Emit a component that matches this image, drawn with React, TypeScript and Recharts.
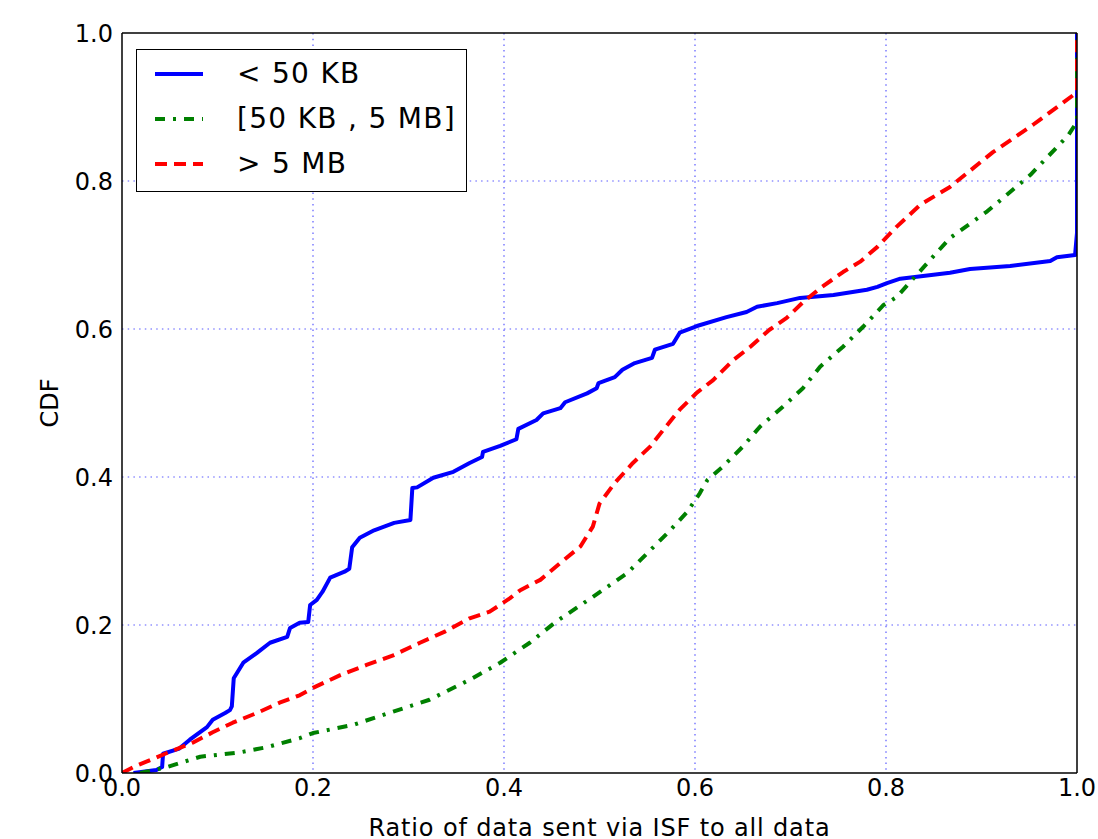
import React from "react";
import { LineChart, Line, XAxis, YAxis, CartesianGrid } from "recharts";

// CDF of ISF data ratio, three flow-size groups
const blueX = [0.012, 0.036, 0.042, 0.043, 0.06, 0.071, 0.089, 0.095, 0.108, 0.113, 0.115, 0.117, 0.127, 0.141, 0.155, 0.173, 0.176, 0.186, 0.195, 0.197, 0.204, 0.21, 0.218, 0.233, 0.238, 0.241, 0.249, 0.264, 0.285, 0.302, 0.304, 0.309, 0.326, 0.347, 0.364, 0.377, 0.378, 0.396, 0.413, 0.415, 0.434, 0.441, 0.459, 0.464, 0.487, 0.497, 0.499, 0.516, 0.524, 0.537, 0.555, 0.558, 0.577, 0.584, 0.602, 0.633, 0.654, 0.665, 0.686, 0.71, 0.745, 0.78, 0.791, 0.801, 0.815, 0.867, 0.888, 0.93, 0.972, 0.979, 0.998, 1.0, 1.0];
const blueY = [0, 0.004, 0.008, 0.026, 0.033, 0.045, 0.062, 0.072, 0.081, 0.085, 0.09, 0.128, 0.149, 0.162, 0.176, 0.184, 0.196, 0.203, 0.204, 0.227, 0.234, 0.245, 0.264, 0.272, 0.276, 0.305, 0.318, 0.328, 0.338, 0.342, 0.385, 0.386, 0.399, 0.407, 0.419, 0.427, 0.434, 0.442, 0.451, 0.465, 0.477, 0.486, 0.493, 0.501, 0.513, 0.52, 0.527, 0.535, 0.545, 0.554, 0.561, 0.572, 0.58, 0.595, 0.604, 0.616, 0.623, 0.63, 0.635, 0.642, 0.646, 0.653, 0.657, 0.662, 0.668, 0.676, 0.681, 0.685, 0.692, 0.697, 0.7, 0.73, 1.0];

const greenX = [0.019, 0.047, 0.082, 0.124, 0.152, 0.186, 0.2, 0.242, 0.284, 0.322, 0.364, 0.396, 0.427, 0.454, 0.493, 0.529, 0.55, 0.571, 0.592, 0.605, 0.613, 0.629, 0.65, 0.668, 0.692, 0.713, 0.731, 0.755, 0.776, 0.797, 0.811, 0.867, 0.906, 0.951, 0.991, 0.999, 1.0, 1.0];
const greenY = [0, 0.008, 0.022, 0.028, 0.035, 0.047, 0.054, 0.065, 0.083, 0.099, 0.126, 0.149, 0.176, 0.204, 0.238, 0.27, 0.297, 0.324, 0.353, 0.378, 0.396, 0.414, 0.441, 0.468, 0.495, 0.52, 0.549, 0.576, 0.603, 0.632, 0.643, 0.723, 0.759, 0.808, 0.862, 0.878, 0.88, 1.0];

const redX = [0, 0.012, 0.047, 0.074, 0.095, 0.116, 0.141, 0.165, 0.186, 0.2, 0.228, 0.256, 0.284, 0.312, 0.338, 0.364, 0.385, 0.406, 0.417, 0.438, 0.459, 0.48, 0.493, 0.5, 0.516, 0.535, 0.553, 0.567, 0.584, 0.602, 0.619, 0.64, 0.658, 0.678, 0.696, 0.713, 0.731, 0.755, 0.773, 0.791, 0.811, 0.836, 0.867, 0.912, 0.954, 0.996, 1.0, 1.0];
const redY = [0, 0.008, 0.027, 0.041, 0.055, 0.068, 0.081, 0.095, 0.105, 0.115, 0.132, 0.146, 0.159, 0.176, 0.191, 0.209, 0.218, 0.236, 0.247, 0.261, 0.284, 0.306, 0.333, 0.364, 0.392, 0.419, 0.441, 0.464, 0.491, 0.514, 0.531, 0.558, 0.576, 0.599, 0.615, 0.636, 0.655, 0.677, 0.691, 0.711, 0.738, 0.768, 0.792, 0.839, 0.876, 0.916, 0.922, 1.0];

const xTicks = [0, 0.2, 0.4, 0.6, 0.8, 1.0];
const yTicks = [0, 0.2, 0.4, 0.6, 0.8, 1.0];

const seriesNames = ["< 50 KB", "[50 KB , 5 MB]", "> 5 MB"];

const zip = (xs: number[], ys: number[]) => xs.map((x, i) => ({ x, y: ys[i] }));

const series = [
  { name: seriesNames[0], data: zip(blueX, blueY), color: "#0000ff", dash: undefined as string | undefined },
  { name: seriesNames[1], data: zip(greenX, greenY), color: "#008000", dash: "10 8 3 8" },
  { name: seriesNames[2], data: zip(redX, redY), color: "#ff0000", dash: "12 7" },
];

const FONT = "'DejaVu Sans', sans-serif";
const fmt = (v: number) => v.toFixed(1);
const noTick = () => <g />;

function LegendBox() {
  return (
    <div
      style={{
        position: "absolute",
        left: 136,
        top: 49,
        border: "1.5px solid #000",
        background: "#fff",
        width: 331,
        height: 143,
        boxSizing: "border-box",
        paddingTop: 1,
        fontFamily: FONT,
        fontSize: 28,
        letterSpacing: 1.3,
      }}
    >
      {series.map(s => (
        <div key={s.name} style={{ display: "flex", alignItems: "center", height: 45 }}>
          <svg width={48} height={10} style={{ marginLeft: 18 }}>
            <line x1={0} y1={5} x2={48} y2={5} stroke={s.color} strokeWidth={4} strokeDasharray={s.dash} />
          </svg>
          <span style={{ marginLeft: 34, whiteSpace: "pre" }}>{s.name}</span>
        </div>
      ))}
    </div>
  );
}

export default function App() {
  const axisLine = { stroke: "#000", strokeWidth: 1.5 };
  const tickLine = { stroke: "#000", strokeWidth: 1.2 };
  return (
    <div style={{ position: "absolute", left: 0, top: 0, background: "#fff" }}>
      <LineChart width={1098} height={839} margin={{ top: 33, right: 21, left: 0, bottom: 0 }}>
        <CartesianGrid
          stroke="#5a5aff"
          strokeDasharray="1.5 4.2"
          strokeWidth={1.2}
          horizontalValues={[0.2, 0.4, 0.6, 0.8]}
          verticalValues={[0.2, 0.4, 0.6, 0.8]}
        />
        <XAxis
          dataKey="x"
          type="number"
          domain={[0, 1]}
          ticks={xTicks}
          interval={0}
          tickFormatter={fmt}
          height={66}
          tickSize={0}
          tickMargin={6}
          axisLine={axisLine}
          tick={{ fill: "#000", fontSize: 24, fontFamily: FONT }}
          allowDataOverflow
          label={{
            content: (p: any) => (
              <text x={p.viewBox.x + p.viewBox.width / 2} y={836} textAnchor="middle" fontSize={24} letterSpacing={0.85} fontFamily={FONT} fill="#000">
                Ratio of data sent via ISF to all data
              </text>
            ),
          }}
        />
        <XAxis xAxisId="top" orientation="top" mirror type="number" domain={[0, 1]} ticks={xTicks} interval={0} tickSize={9} tick={noTick} tickLine={tickLine} axisLine={axisLine} />
        <XAxis xAxisId="bot" orientation="bottom" mirror type="number" domain={[0, 1]} ticks={xTicks} interval={0} tickSize={9} tick={noTick} tickLine={tickLine} axisLine={false} />
        <YAxis
          type="number"
          domain={[0, 1]}
          ticks={yTicks}
          interval={0}
          tickFormatter={fmt}
          width={122}
          tickSize={0}
          tickMargin={9}
          axisLine={axisLine}
          tick={{ fill: "#000", fontSize: 24, fontFamily: FONT }}
          allowDataOverflow
          label={{
            content: (p: any) => {
              const cy = p.viewBox.y + p.viewBox.height / 2;
              return (
                <text x={50} y={cy} transform={`rotate(-90 50 ${cy})`} textAnchor="middle" dominantBaseline="central" fontSize={24} fontFamily={FONT} fill="#000">
                  CDF
                </text>
              );
            },
          }}
        />
        <YAxis yAxisId="lm" orientation="left" mirror type="number" domain={[0, 1]} ticks={yTicks} interval={0} tickSize={9} tick={noTick} tickLine={tickLine} axisLine={false} />
        <YAxis yAxisId="right" orientation="right" mirror type="number" domain={[0, 1]} ticks={yTicks} interval={0} tickSize={9} tick={noTick} tickLine={tickLine} axisLine={axisLine} />
        {series.map(s => (
          <Line
            key={s.name}
            data={s.data}
            dataKey="y"
            name={s.name}
            type="linear"
            stroke={s.color}
            strokeWidth={4}
            strokeDasharray={s.dash}
            strokeLinecap="butt"
            strokeLinejoin="round"
            dot={false}
            activeDot={false}
            isAnimationActive={false}
          />
        ))}
      </LineChart>
      <LegendBox />
    </div>
  );
}
